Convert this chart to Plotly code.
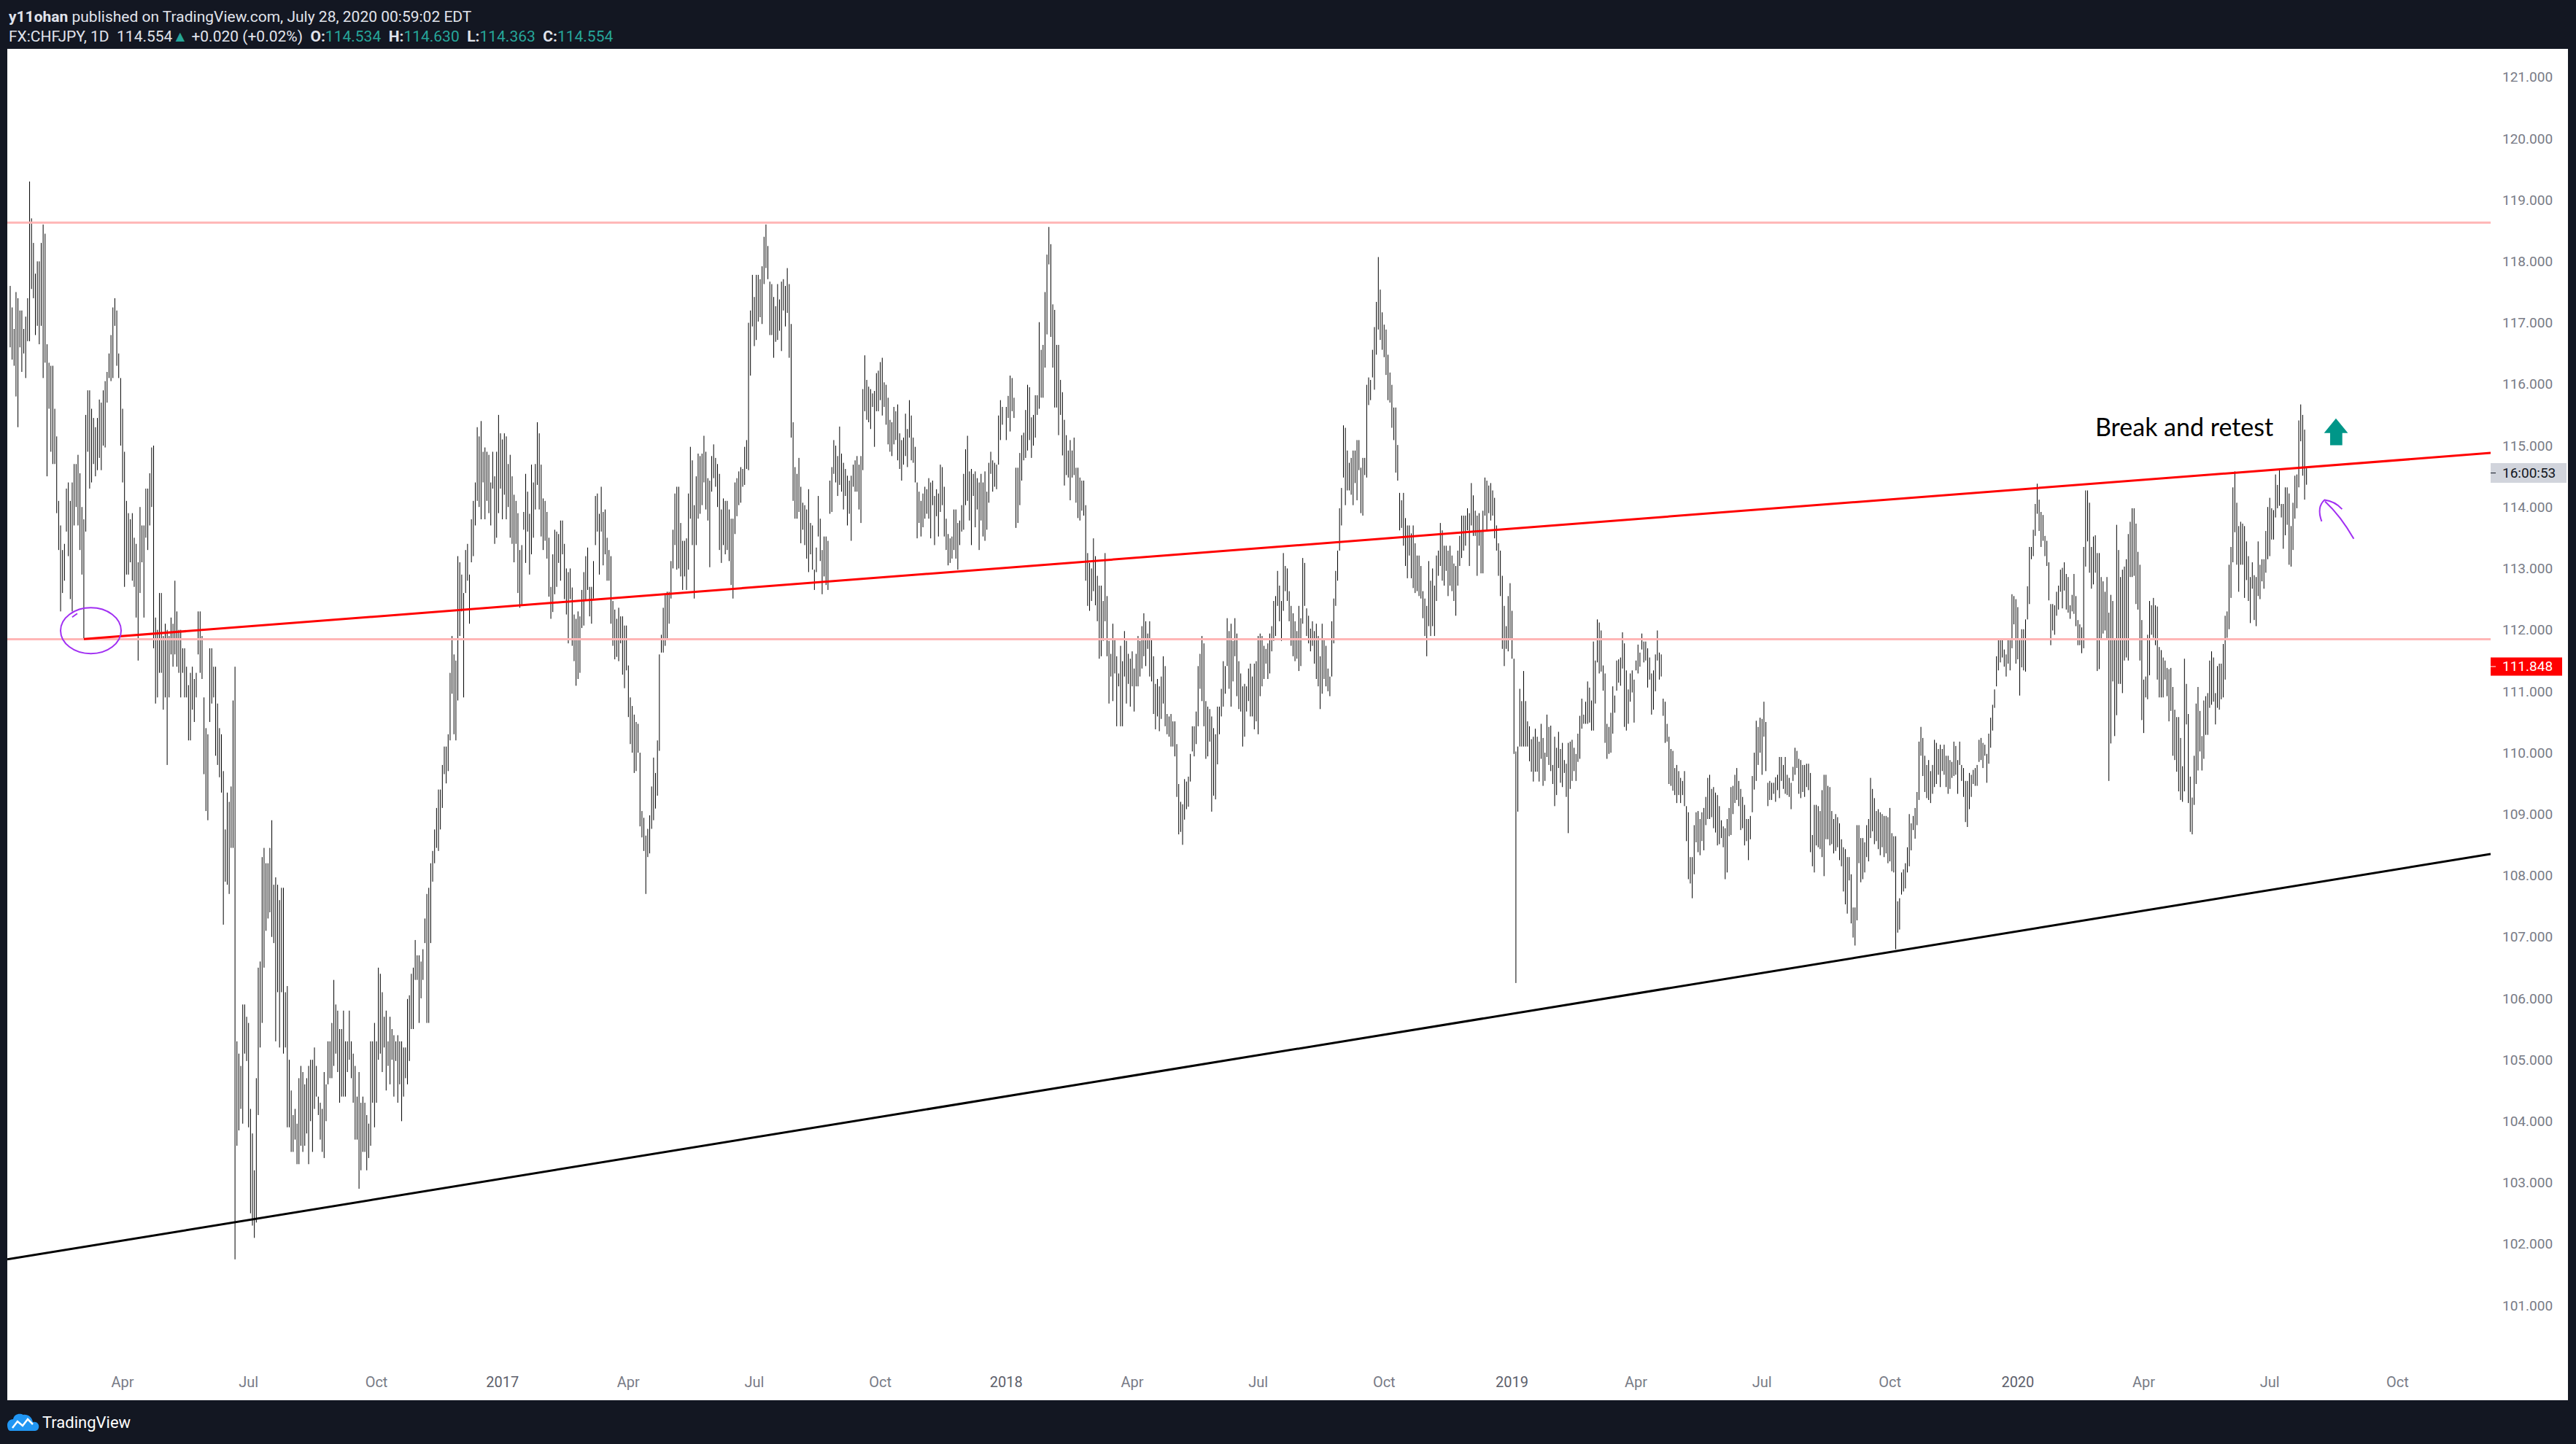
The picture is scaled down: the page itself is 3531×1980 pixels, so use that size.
import pandas as pd
import plotly.graph_objects as go

# ---------------- DATA (daily high / low) ----------------
START_2016 = "2016-01-12"
H2016 = [117.6, 117.25, 116.9, 117.5, 117.4, 117.2, 117.2, 116.9, 117.1, 117.4,
         119.3, 118.7, 118.3, 117.8, 118.0, 118.0, 118.3, 118.6, 118.45, 116.65,
         116.35, 116.3, 116.3, 115.6, 115.15, 114.1, 113.7, 113.3, 113.4, 114.3,
         114.4, 114.1, 114.4, 114.7, 114.7, 114.85, 114.55, 114.0, 113.8, 115.5,
         115.9, 115.9, 115.6, 115.45, 115.3, 115.45, 115.75, 115.7, 115.9, 116.05,
         116.2, 116.5, 116.8, 117.25, 117.4, 117.2, 116.5, 116.1, 115.6, 114.9,
         114.1, 113.9, 113.8, 113.9, 113.5, 113.4, 113.1, 114.0, 113.7, 113.7,
         114.3, 114.3, 114.55, 114.97, 115.0, 112.2, 112.0, 112.6, 112.6, 111.9, 112.1,
         112.0, 111.9, 112.2, 112.1, 112.8, 112.3, 112.0, 112.0, 111.7, 111.7,
         111.4, 111.1, 111.3, 111.4, 111.2, 111.3, 112.3, 112.3, 111.9, 110.9,
         110.4, 110.3, 111.7, 111.7, 111.4, 111.4, 110.8, 110.4, 110.3, 109.7,
         108.75, 109.35, 109.2, 109.45, 110.85, 111.4, 105.3, 105.1, 104.9, 105.9,
         105.9, 105.7, 105.6, 104.2, 103.8, 103.2, 104.7, 106.5, 106.6, 108.3,
         108.45, 108.2, 108.2, 108.45, 108.9, 107.85, 107.97, 107.85, 107.6, 107.8,
         107.8, 106.1, 106.2, 105.0, 104.5, 104.1, 104.2, 103.96, 104.7, 104.9, 104.8,
         104.6, 104.7, 104.9, 105.0, 105.0, 105.2, 104.9, 104.4, 104.3, 104.2,
         104.8, 104.6, 105.3, 105.3, 105.6, 106.3, 105.9, 105.8, 105.5, 105.5,
         105.8, 105.3, 105.3, 105.8, 105.3, 105.1, 104.9, 104.4, 104.8, 104.3,
         104.4, 104.3, 104.1, 103.96, 105.3, 105.3, 105.6, 105.3, 106.5, 106.4,
         106.1, 105.7, 105.8, 105.3, 105.7, 105.5, 105.4, 105.3, 105.4, 105.3,
         105.3, 105.2, 105.2, 105.99, 106.05, 106.4, 106.5, 106.95, 106.7, 106.7, 106.6,
         106.8, 107.3, 107.7, 107.8, 108.2, 108.4, 108.75, 109.1, 109.4, 109.4,
         109.8, 110.1, 110.1, 110.3, 111.3, 111.9, 111.6, 111.5, 113.2, 113.1,
         112.9, 112.6, 113.3, 113.4, 112.9, 113.8, 114.1, 114.4, 115.3, 115.15,
         115.4, 114.9, 114.97, 114.9, 114.85, 114.4, 114.9, 114.5, 114.9, 115.5, 115.2]
L2016 = [116.6, 116.4, 116.3, 115.8, 115.3, 116.6, 116.2, 116.5, 116.1, 116.7,
         116.7, 117.55, 117.4, 116.8, 116.95, 116.65, 116.95, 116.1, 116.35, 114.5,
         115.6, 114.9, 114.7, 114.7, 113.9, 113.3, 112.3, 112.6, 112.8, 113.6,
         113.2, 112.5, 112.3, 113.7, 114.0, 113.7, 113.3, 112.9, 111.85, 113.6,
         114.9, 114.3, 114.4, 114.7, 114.5, 114.6, 114.8, 114.6, 115.0, 114.97,
         115.7, 116.1, 116.05, 116.1, 116.95, 116.3, 116.1, 115.0, 114.4, 112.7,
         112.9, 112.9, 113.1, 112.8, 112.7, 112.2, 111.5, 112.6, 113.1, 112.2,
         113.5, 113.3, 113.7, 114.0, 111.7, 110.8, 110.9, 111.3, 111.3, 110.7, 110.9,
         109.8, 110.9, 111.6, 111.4, 111.6, 111.4, 111.3, 110.9, 111.3, 110.9,
         110.9, 110.2, 110.2, 110.7, 110.5, 110.9, 111.6, 111.3, 111.2, 109.65,
         109.05, 108.9, 110.5, 110.8, 110.9, 109.95, 109.8, 109.6, 109.35, 107.2,
         107.9, 107.85, 107.7, 108.45, 108.45, 101.75, 103.6, 103.85, 104.2, 103.96,
         105.1, 104.98, 103.9, 102.5, 102.3, 102.1, 102.35, 104.1, 105.2, 105.6,
         106.5, 107.1, 107.3, 107.4, 107.0, 106.9, 105.3, 106.1, 105.2, 106.1,
         105.1, 105.2, 103.9, 103.9, 103.5, 103.5, 103.7, 103.3, 103.3, 103.6, 103.5,
         103.6, 103.8, 103.3, 104.0, 103.5, 104.2, 104.4, 104.1, 103.7, 103.5,
         103.4, 104.0, 104.6, 104.7, 104.7, 104.9, 105.1, 104.8, 104.3, 104.4,
         104.4, 104.4, 104.8, 105.0, 104.7, 104.3, 103.7, 103.7, 102.9, 103.2,
         103.5, 103.5, 103.2, 103.4, 103.6, 104.3, 103.9, 104.3, 105.0, 105.1,
         104.8, 105.2, 104.5, 104.9, 104.6, 105.0, 104.4, 104.98, 104.3, 104.6,
         104.0, 104.4, 104.7, 104.6, 104.98, 105.5, 105.5, 106.3, 106.3, 105.6, 106.0,
         106.3, 106.9, 105.6, 105.6, 106.9, 107.9, 108.2, 108.45, 108.4, 108.75,
         109.1, 109.65, 109.5, 109.7, 110.2, 110.96, 110.3, 110.2, 110.85, 111.9,
         112.3, 110.9, 112.6, 112.8, 112.1, 113.1, 113.2, 113.7, 114.1, 114.0,
         113.8, 114.4, 113.8, 114.1, 113.9, 113.7, 114.3, 113.4, 113.5, 113.9, 114.3]

START_2017 = "2017-01-01"
H2017 = [115.1, 115.2, 115.15, 114.7, 114.85, 114.5, 114.2, 114.1, 113.9,
         113.3, 113.38, 113.92, 114.54, 114.25, 113.89, 114.69, 114.4, 114.7, 115.38,
         115.2, 114.69, 114.14, 114.1, 113.92, 113.5, 112.7, 113.23, 113.63, 113.6,
         113.56, 113.78, 113.78, 113.4, 113.0, 112.94, 113.0, 112.69, 112.25, 112.18, 112.3,
         112.22, 112.65, 112.94, 113.2, 113.34, 112.7, 112.7, 113.12, 114.18, 114.22,
         113.89, 114.33, 113.92, 113.96, 113.5, 113.3, 113.2, 112.47, 112.33, 112.18,
         112.36, 112.22, 112.22, 112.07, 112.07, 111.42, 110.9, 110.76, 110.62, 110.5,
         110.47, 110.0, 109.05, 108.94, 108.65, 108.76, 108.98, 109.45, 109.92, 109.67, 110.2,
         111.6, 111.92, 112.36, 112.58, 112.62, 112.62, 113.12, 113.63, 114.22, 114.33,
         114.33, 113.74, 113.45, 113.45, 113.49, 114.22, 114.98, 114.76, 114.03, 114.5,
         114.87, 114.83, 114.87, 115.16, 114.9, 114.47, 114.43, 114.83, 115.02, 114.8, 114.7,
         114.54, 113.96, 114.14, 114.1, 114.1, 113.96, 113.81, 113.81, 114.4, 114.47,
         114.58, 114.65, 114.62, 114.98, 115.09, 117.0, 117.2, 117.78, 117.42, 117.78,
         117.78, 117.71, 117.92, 118.4, 118.6, 118.25, 117.67, 117.63, 117.42, 117.27,
         117.63, 117.38, 117.67, 117.71, 117.6, 117.89, 117.63, 116.98, 115.38, 114.65,
         114.54, 114.8, 114.33, 114.07, 114.03, 113.96, 114.29, 113.74, 113.7, 112.98,
         113.34, 114.18, 113.81, 113.3, 113.52, 113.52, 113.45, 114.43, 114.65, 115.09, 115.0,
         114.83, 115.31, 114.87, 114.72, 114.62, 114.51, 114.43, 114.51, 114.69, 114.76,
         114.83, 114.69, 114.83, 115.92, 116.47, 116.07, 115.96, 115.92, 115.85, 115.89,
         116.18, 116.22, 116.36, 116.43, 116.03, 115.99, 115.78, 115.42, 115.38, 115.63,
         115.56, 115.67, 115.2, 115.09, 115.13, 115.52, 115.27, 115.74, 115.49, 115.13,
         114.98, 114.4, 114.25, 114.1, 114.22, 114.33, 114.29, 114.47, 114.4, 114.43,
         114.18, 114.29, 114.22, 114.69, 114.65, 114.33, 113.81, 113.56, 113.49, 113.52,
         113.96, 113.96, 113.74, 113.78, 114.03, 114.54, 114.94, 115.16, 114.58, 114.62,
         114.54, 114.58, 114.47, 114.4, 114.54, 114.4, 114.58, 114.25, 114.72, 114.9,
         114.76, 114.72, 114.69, 115.49, 115.74, 115.63]
L2017 = [113.8, 114.2, 113.8, 114.0, 113.5, 113.4, 113.1, 113.4, 112.6,
         112.36, 112.4, 113.63, 113.09, 113.6, 112.9, 113.23, 113.5, 113.96, 114.36,
         113.96, 113.52, 113.3, 113.45, 113.16, 112.54, 112.18, 112.29, 112.58, 112.7,
         113.09, 112.8, 113.23, 112.5, 112.25, 111.78, 112.5, 111.74, 111.49, 111.09, 111.2,
         111.3, 112.03, 112.07, 112.47, 112.65, 112.22, 112.1, 112.51, 113.38, 113.6,
         112.9, 113.6, 113.05, 113.23, 112.8, 112.8, 112.1, 111.74, 111.52, 111.56,
         111.49, 111.78, 111.27, 111.05, 111.34, 110.58, 110.14, 110.0, 109.67, 109.7,
         110.0, 108.8, 108.62, 108.4, 107.7, 108.3, 108.36, 108.76, 108.9, 109.09, 109.3,
         110.03, 111.63, 111.63, 111.74, 111.85, 112.1, 112.51, 113.0, 113.38, 112.98,
         113.0, 112.87, 112.65, 112.87, 112.65, 112.98, 113.81, 113.38, 112.51, 113.38,
         113.81, 113.89, 114.03, 114.4, 113.96, 113.78, 113.02, 114.25, 114.47, 114.33, 114.0,
         113.3, 113.09, 113.38, 113.23, 113.3, 113.12, 112.73, 112.51, 113.56, 113.85,
         114.03, 114.07, 114.33, 114.36, 114.62, 114.6, 116.14, 116.94, 116.62, 116.72,
         117.02, 117.09, 116.98, 117.63, 117.89, 117.71, 116.8, 116.8, 116.43, 116.69,
         116.72, 116.87, 116.54, 117.2, 116.94, 117.16, 116.43, 115.13, 114.1, 113.81,
         113.81, 113.92, 113.41, 113.63, 113.38, 113.16, 112.94, 113.23, 112.98, 112.65,
         112.94, 113.52, 113.12, 112.58, 112.87, 112.73, 112.65, 113.89, 113.92, 114.54, 114.4,
         114.18, 114.36, 114.25, 113.96, 114.18, 113.7, 113.89, 113.45, 114.33, 114.25,
         114.25, 113.96, 113.74, 114.6, 115.56, 115.42, 115.38, 115.27, 115.63, 114.98,
         115.56, 115.56, 115.74, 115.49, 115.63, 115.34, 115.02, 114.9, 114.83, 115.02,
         115.09, 114.76, 114.62, 114.43, 114.69, 114.83, 114.65, 115.13, 114.76, 114.72,
         114.4, 113.49, 113.74, 113.52, 113.67, 113.81, 113.89, 113.81, 113.49, 114.03,
         113.38, 113.85, 113.52, 113.92, 114.03, 113.52, 113.3, 113.05, 113.09, 113.16,
         113.3, 113.16, 112.98, 113.38, 113.6, 113.63, 114.03, 114.1, 113.78, 113.38,
         114.18, 113.67, 113.96, 113.3, 113.78, 113.52, 113.45, 113.63, 114.07, 114.54,
         114.25, 114.33, 114.29, 114.69, 115.09, 115.34]

START_2018 = "2018-01-01"
H2018 = [115.63, 115.81, 116.14, 116.1, 115.78,
         114.64, 114.64, 114.88, 115.17, 115.21, 115.58, 115.99, 115.95, 115.46, 115.5, 115.82,
         115.82, 117.01, 116.56, 116.64, 117.5, 118.11, 118.56, 118.28, 117.3, 117.21,
         116.64, 116.64, 116.07, 115.87, 115.42, 115.17, 114.92, 115.09, 114.92, 115.13,
         114.64, 114.64, 114.48, 114.43, 114.43, 114.03, 113.25, 113.09, 113.0, 113.49, 113.2,
         112.88, 112.72, 112.72, 112.47, 113.25, 112.55, 111.82, 111.61, 112.1, 111.86,
         111.57, 111.29, 111.74, 111.49, 111.98, 111.82, 111.61, 111.53, 111.65, 111.37,
         111.61, 111.9, 111.82, 112.06, 112.27, 112.14, 111.94, 112.14, 111.86, 111.57,
         111.12, 111.2, 111.08, 111.24, 111.57, 111.41, 110.63, 110.59, 110.63, 110.51,
         110.51, 110.14, 109.49, 109.2, 109.16, 109.57, 109.53, 109.61, 109.98, 110.43,
         110.43, 110.67, 111.41, 111.61, 111.9, 111.78, 110.84, 110.75, 110.71, 110.59, 110.4,
         110.3, 110.75, 110.75, 111.04, 111.49, 111.41, 112.19, 111.98, 112.1, 111.82,
         112.19, 111.94, 111.49, 111.29, 111.08, 111.12, 111.08, 111.37, 111.45, 111.24,
         111.45, 111.49, 111.9, 111.94, 111.9, 111.74, 111.69, 111.78, 111.94, 112.06,
         112.47, 112.55, 112.96, 112.72, 112.47, 113.25, 113.04, 113.0, 112.63, 112.39,
         112.27, 112.14, 111.98, 112.39, 112.19, 113.17, 113.09, 112.35, 112.23, 112.02,
         112.14, 111.98, 112.1, 111.9, 111.57, 112.1, 111.86, 111.74, 111.37, 111.24,
         112.14, 112.51, 112.96, 113.29, 113.98, 114.31, 115.33, 115.29, 114.92, 114.72, 114.8,
         114.92, 114.92, 115.09, 115.09, 114.64, 114.8, 114.8, 115.99, 116.11, 116.07,
         116.56, 116.93, 117.34, 118.07, 117.54, 117.17, 116.97, 116.89, 116.48, 116.19,
         115.99, 115.62, 115.62, 115.01, 114.23, 114.11, 114.23, 113.82, 113.7, 113.7,
         113.57, 113.7, 113.41, 113.21, 113.21, 113.04, 112.63, 112.51, 112.39, 113.12,
         112.8, 113.0, 112.72, 113.21, 113.29, 113.74, 113.62, 113.37, 113.37, 113.29,
         113.37, 113.21, 113.08, 113.04, 113.29, 113.53, 113.86, 113.86, 113.86, 113.98,
         113.9, 114.39, 114.19, 113.94, 113.86, 113.9, 113.62, 113.94, 114.48, 114.43,
         114.35, 114.39, 114.27, 114.15, 113.7, 113.41, 113.29, 112.88, 112.39, 112.06, 112.55, 112.76]
L2018 = [115.09, 115.45, 115.23, 115.56, 115.45,
         113.66, 113.74, 114.03, 114.43, 114.76, 114.8, 114.92, 115.09, 114.8, 115.0, 115.13,
         115.5, 115.6, 115.78, 115.78, 116.27, 116.81, 117.95, 116.77, 116.27, 115.62,
         115.62, 115.17, 115.5, 114.84, 114.35, 114.52, 114.48, 114.11, 114.48, 114.52,
         114.07, 113.82, 113.78, 113.94, 113.86, 112.8, 112.39, 112.31, 112.47, 112.63, 112.4,
         112.14, 111.53, 111.57, 111.82, 112.14, 111.57, 110.8, 111.24, 110.84, 111.29,
         110.43, 111.08, 110.43, 110.43, 111.24, 110.8, 111.12, 110.75, 111.08, 110.67,
         111.08, 111.08, 111.24, 111.37, 111.57, 111.41, 111.69, 111.24, 111.16, 110.63,
         110.38, 110.59, 110.35, 110.55, 110.8, 110.43, 110.3, 110.26, 110.1, 110.1,
         109.94, 109.28, 108.67, 108.71, 108.5, 108.91, 109.08, 109.12, 109.53, 110.02,
         109.94, 110.14, 110.43, 111.04, 110.84, 110.43, 109.9, 109.94, 110.18, 109.04, 109.3,
         109.24, 109.81, 110.3, 110.59, 110.75, 110.96, 111.41, 111.04, 110.75, 111.16,
         111.57, 110.92, 110.71, 110.67, 110.1, 110.26, 110.67, 110.84, 110.59, 110.59,
         110.38, 110.51, 110.3, 110.92, 111.08, 111.2, 111.45, 111.2, 111.29, 111.65,
         111.82, 111.9, 112.39, 112.14, 111.82, 112.31, 112.63, 112.47, 112.14, 111.74,
         111.57, 111.49, 111.53, 111.33, 111.41, 112.1, 112.39, 111.9, 111.78, 111.65,
         111.74, 111.45, 111.2, 111.08, 110.71, 110.96, 111.2, 111.08, 111.0, 110.92,
         111.24, 111.78, 112.39, 112.8, 113.29, 113.7, 114.48, 114.03, 114.27, 114.27, 114.2,
         114.03, 114.39, 114.11, 114.6, 113.9, 113.86, 114.52, 114.48, 115.66, 115.74,
         116.11, 115.91, 116.48, 116.89, 116.72, 116.56, 116.44, 116.15, 115.74, 115.7,
         115.29, 115.09, 114.56, 114.43, 113.62, 113.66, 113.37, 113.04, 112.84, 113.21,
         112.84, 112.68, 112.6, 112.63, 112.55, 112.51, 112.19, 111.9, 111.57, 112.06,
         111.9, 112.06, 111.9, 112.47, 112.88, 113.04, 112.8, 112.72, 112.96, 112.55,
         112.72, 112.63, 112.47, 112.23, 112.72, 113.04, 113.17, 113.29, 113.37, 113.62,
         113.04, 113.7, 113.53, 113.53, 112.88, 113.37, 112.92, 112.92, 113.86, 113.62,
         113.9, 113.78, 113.86, 113.49, 113.29, 112.88, 112.55, 111.69, 111.41, 111.69, 111.65, 111.86]

START_2019 = "2019-01-01"
H2019 = [112.31, 111.53, 110.02, 110.1, 111.04, 110.84, 111.33, 110.84, 110.51, 110.43,
         110.22, 110.26, 110.39, 110.26, 110.18,
         110.47, 110.24, 110.0, 110.62, 110.42, 110.44, 109.8, 110.26, 110.08, 110.34,
         110.06, 110.16, 109.88, 109.82, 110.16, 110.18, 110.21, 110.08, 109.98, 110.31,
         110.6, 110.88, 110.62, 110.83, 111.16, 111.06, 110.85, 111.81, 111.5,
         112.17, 112.12, 111.99, 111.42, 111.29, 110.47, 110.42, 110.65, 111.08, 110.93,
         111.5, 111.52, 111.55, 111.96, 111.78, 111.34, 111.03, 111.29, 111.34, 111.19,
         111.5, 111.76, 111.63, 111.94, 111.81, 111.81, 111.7, 111.55, 111.29, 111.34, 111.6,
         111.99, 111.63, 111.6, 110.88, 110.83, 110.47, 110.26, 110.06, 110.03, 109.75,
         109.8, 109.7, 109.59, 109.54, 109.7, 109.13, 109.03, 108.3, 108.3, 108.82,
         109.03, 109.05, 108.92, 109.03, 109.1, 109.28, 109.59, 109.64, 109.41, 109.44, 109.35,
         109.31, 109.13, 108.9, 108.8, 108.77, 108.92, 109.1, 109.44, 109.46, 109.64,
         109.75, 109.54, 109.41, 109.28, 109.15, 108.92, 108.92, 108.97, 109.62, 110.0,
         110.52, 110.42, 110.57, 110.55, 110.83, 110.5, 109.51, 109.54, 109.51, 109.51, 109.6,
         109.64, 109.93, 109.93, 109.8, 109.93, 109.64, 109.59, 109.51, 109.77, 110.08,
         110.03, 109.9, 109.88, 109.8, 109.8, 109.82, 109.82, 109.67, 108.66, 109.15,
         109.15, 109.13, 109.05, 109.39, 109.64, 109.64, 109.46, 109.44, 109.05, 108.92, 109.0,
         108.95, 108.85, 108.59, 108.46, 108.43, 108.3, 108.3, 108.02, 107.48, 107.48,
         108.82, 108.82, 108.61, 108.61, 108.54, 108.82, 108.92, 109.59, 109.41, 109.26,
         109.05, 109.08, 109.03, 109.0, 108.97, 108.97, 108.95, 109.1, 108.69, 108.64,
         108.64, 107.58, 107.63, 108.05, 108.1, 108.2, 108.46, 109.0, 108.85, 108.97, 109.1,
         109.36, 110.18, 110.42, 110.24, 109.95, 109.8, 109.88, 109.7, 109.8, 110.21,
         110.16, 110.06, 110.13, 110.06, 110.13, 109.95, 109.95, 109.88, 109.85, 110.18,
         110.11, 109.88, 110.18, 109.8, 109.75, 109.54, 109.54, 109.67, 109.64, 109.72,
         109.75, 109.8, 110.21, 110.24, 110.16, 110.13, 109.98, 110.31, 110.57, 110.78,
         111.03, 111.57, 111.83, 111.86, 111.83, 111.68, 111.6, 111.83, 111.86, 112.58,
         112.55, 112.5]
L2019 = [111.53, 109.98, 106.25, 109.04, 110.1, 110.1, 110.1, 110.1, 110.1, 109.86,
         109.69, 109.53, 109.69, 109.69, 109.53,
         109.9, 109.46, 109.54, 109.93, 109.8, 109.7, 109.49, 109.13, 109.31, 109.75,
         109.51, 109.44, 109.67, 109.28, 108.69, 109.41, 109.54, 109.7, 109.54, 109.85,
         109.9, 110.39, 110.47, 110.47, 110.47, 110.49, 110.36, 110.36, 110.8,
         111.47, 111.29, 111.32, 111.01, 110.16, 109.9, 109.98, 110.0, 110.31, 110.65,
         111.01, 111.14, 111.09, 111.37, 110.42, 110.36, 110.47, 110.83, 110.98, 110.49,
         111.34, 111.29, 111.4, 111.68, 111.47, 111.5, 111.06, 111.19, 110.62, 110.7, 111.0,
         111.5, 111.19, 111.24, 110.6, 110.16, 110.18, 109.49, 109.46, 109.38, 109.31,
         109.18, 109.31, 109.18, 109.31, 109.13, 108.56, 107.94, 107.87, 107.63, 108.02,
         108.54, 108.38, 108.33, 108.56, 108.41, 108.82, 108.92, 108.92, 108.95, 108.77, 108.7,
         108.49, 108.51, 108.61, 108.46, 107.94, 108.05, 108.64, 108.66, 109.0, 109.18,
         109.23, 109.13, 108.74, 108.77, 108.49, 108.56, 108.25, 108.59, 109.03, 109.4,
         109.54, 109.8, 110.0, 109.64, 110.26, 109.7, 109.13, 109.23, 109.23, 109.33, 109.2,
         109.39, 109.26, 109.54, 109.41, 109.33, 109.31, 109.28, 109.08, 109.54, 109.64,
         109.75, 109.33, 109.26, 109.36, 109.28, 109.44, 109.39, 108.38, 108.15, 108.05,
         108.49, 108.46, 108.43, 108.3, 107.99, 108.59, 108.59, 108.49, 108.51, 108.36, 108.4,
         108.46, 108.25, 108.15, 107.74, 107.53, 107.38, 107.92, 107.22, 106.99, 106.86,
         107.27, 108.2, 107.89, 107.94, 108.05, 108.3, 108.23, 108.61, 108.72, 108.51,
         108.56, 108.43, 108.33, 108.46, 108.3, 108.36, 108.2, 108.23, 108.07, 108.05,
         106.8, 107.07, 107.12, 107.69, 107.74, 107.79, 108.05, 108.15, 108.41, 108.74, 108.6,
         108.82, 109.23, 109.95, 109.62, 109.36, 109.26, 109.23, 109.18, 109.33, 109.44,
         109.49, 109.64, 109.44, 109.7, 109.64, 109.44, 109.33, 109.41, 109.59, 109.62,
         109.64, 109.33, 109.8, 109.54, 109.28, 108.87, 108.79, 109.08, 109.28, 109.49,
         109.46, 109.46, 109.85, 109.88, 109.75, 109.95, 109.51, 109.82, 110.08, 110.36,
         110.73, 111.08, 111.34, 111.47, 111.55, 111.4, 111.24, 111.45, 111.34, 111.7,
         112.09, 111.45]

START_2020 = "2020-01-01"
H2020 = [112.37, 111.86, 112.01, 112.01, 112.17, 112.71, 113.35, 113.35, 113.63, 114.05,
         114.38, 114.12, 113.92, 113.87, 113.53, 113.45, 113.1,
         112.42, 112.42, 112.4, 112.62, 112.72, 112.98, 113.01, 113.1, 112.91, 112.86,
         112.4, 112.57, 112.91, 112.55, 112.16, 112.09, 112.04, 113.35, 114.27, 114.27,
         114.07, 113.35, 113.52, 113.54, 113.25, 113.25, 112.86, 112.79, 112.62, 112.86,
         112.28, 112.57, 112.47, 111.84, 113.71, 113.3, 112.86, 112.98, 113.03, 113.15,
         113.56, 113.76, 113.98, 113.98, 113.73, 113.27, 113.06, 112.16, 111.19, 111.24,
         111.92, 112.47, 112.4, 112.52, 112.4, 112.38, 111.72, 111.67, 111.55, 111.5,
         111.38, 111.36, 111.38, 111.07, 110.7, 110.58, 110.58, 110.24, 109.78, 111.53,
         111.12, 110.63, 109.61, 109.27, 109.95, 110.8, 111.07, 110.68, 110.27, 110.85,
         110.92, 110.97, 111.5, 111.65, 111.55, 110.97, 111.41, 111.45, 111.45, 111.77,
         112.23, 112.3, 113.06, 113.35, 114.32, 114.58, 114.07, 113.69, 113.76, 113.73,
         113.69, 113.44, 113.2, 112.86, 113.1, 112.89, 112.86, 113.44, 113.06, 113.15,
         113.15, 113.61, 114.0, 114.15, 113.98, 113.95, 114.53, 114.36, 114.61, 114.05,
         114.05, 114.32, 114.32, 114.22, 113.69, 114.07, 114.51, 114.53, 115.41, 115.67,
         115.5, 115.26, 114.63]
L2020 = [111.52, 110.93, 111.39, 111.34, 111.32, 112.17, 112.42, 113.15, 113.2, 113.53,
         113.89, 113.61, 113.35, 113.45, 113.2, 113.04, 112.48,
         111.75, 111.99, 111.92, 112.23, 112.33, 112.62, 112.35, 112.64, 112.33, 112.28,
         112.18, 112.3, 112.26, 112.06, 111.75, 111.75, 111.62, 111.7, 113.03, 113.44,
         112.93, 112.67, 112.74, 112.93, 111.33, 111.36, 111.84, 111.94, 111.99, 111.84,
         109.54, 110.15, 111.16, 110.27, 110.61, 111.12, 111.12, 110.97, 111.5, 111.55,
         111.5, 112.86, 112.86, 112.88, 112.42, 112.33, 111.5, 110.53, 110.32, 110.9,
         110.87, 111.26, 111.92, 111.87, 111.75, 111.19, 110.9, 110.9, 110.9, 111.19,
         110.92, 110.51, 110.68, 109.95, 109.88, 109.69, 109.37, 109.23, 109.2, 109.37,
         110.46, 109.18, 108.71, 108.67, 109.15, 109.49, 109.71, 110.02, 109.71, 109.9,
         110.29, 110.29, 110.73, 110.78, 110.83, 110.46, 110.73, 110.7, 110.87, 110.9,
         111.19, 111.87, 112.01, 112.52, 113.1, 113.59, 113.06, 112.62, 113.06, 113.06,
         112.52, 112.81, 112.47, 112.11, 112.67, 112.16, 112.06, 112.55, 112.5, 112.79,
         112.67, 112.93, 113.15, 113.2, 113.47, 113.47, 113.83, 113.98, 114.02, 113.83,
         113.32, 113.54, 113.71, 113.06, 113.03, 113.3, 113.81, 113.98, 114.32, 115.07,
         114.51, 114.12, 114.363]

SERIES = [(START_2016, H2016, L2016), (START_2017, H2017, L2017),
          (START_2018, H2018, L2018), (START_2019, H2019, L2019),
          (START_2020, H2020, L2020)]

# horizontal levels and trend lines (time, price)
LEVEL_TOP = 118.63
LEVEL_LOW = 111.848
RED_LINE = [("2016-03-04", 111.85), ("2020-12-08", 114.88)]
BLACK_LINE = [("2016-01-08 12:00", 101.75), ("2020-12-08", 108.35)]
X_RANGE = ["2016-01-08 12:00", "2020-12-08"]
Y_RANGE = [100.05, 121.46]

TICK_MONTHS = ["2016-04", "2016-07", "2016-10", "2017-01", "2017-04", "2017-07", "2017-10",
               "2018-01", "2018-04", "2018-07", "2018-10", "2019-01", "2019-04", "2019-07",
               "2019-10", "2020-01", "2020-04", "2020-07", "2020-10"]
TICK_TEXT = ["Apr", "Jul", "Oct", "2017", "Apr", "Jul", "Oct", "2018", "Apr", "Jul", "Oct",
             "2019", "Apr", "Jul", "Oct", "2020", "Apr", "Jul", "Oct"]

SYMBOL = "FX:CHFJPY, 1D"
LAST = 114.554
CHANGE = "+0.020 (+0.02%)"
OHLC = [("O", "114.534"), ("H", "114.630"), ("L", "114.363"), ("C", "114.554")]
AUTHOR = "y11ohan"
PUBLISHED = "published on TradingView.com, July 28, 2020 00:59:02 EDT"
NOTE_TEXT = "Break and retest"
NOTE_POS = ("2020-04-30", 115.31)
CIRCLE_ANCHOR = ("2016-03-04", 111.85)
MARK_ANCHOR = ("2020-08-06", 114.0)
COUNTDOWN = "16:00:53"

# ---------------- FIGURE ----------------
W, H = 3531, 1980
PL, PR, PT, PB = 10, 3414, 67, 1870
DARK = "#131722"
TEAL = "#26a69a"
AXIS_GRAY = "#787b86"
YEAR_GRAY = "#5d606b"
PURPLE = "#a12ff2"


def pxx(x):
    return (x - PL) / (PR - PL)


def pyy(y):
    return (PB - y) / (PB - PT)


xs, ys = [], []
for start, hi, lo in SERIES:
    n = min(len(hi), len(lo))
    dates = pd.bdate_range(start, periods=n)
    for d, h, l in zip(dates, hi[:n], lo[:n]):
        xs += [d, d, None]
        ys += [l, h, None]

fig = go.Figure()
fig.add_trace(go.Scatter(x=xs, y=ys, mode="lines", line=dict(color="#000000", width=1),
                         hoverinfo="skip", connectgaps=False))

tickvals = [pd.bdate_range(m + "-01", periods=1)[0] for m in TICK_MONTHS]
ticktext = [f"<span style='color:{YEAR_GRAY}'>{t}</span>" if t.isdigit() else t
            for t in TICK_TEXT]

shapes = []
# white chart panel
shapes.append(dict(type="rect", xref="paper", yref="paper", x0=pxx(10), x1=pxx(3520),
                   y0=pyy(1920), y1=1, fillcolor="white", line=dict(width=0), layer="below"))
# horizontal levels
for lv in (LEVEL_TOP, LEVEL_LOW):
    shapes.append(dict(type="line", xref="paper", yref="y", x0=0, x1=1, y0=lv, y1=lv,
                       line=dict(color="#ffb6b6", width=3)))
# trend lines
shapes.append(dict(type="line", xref="x", yref="y", x0=RED_LINE[0][0], y0=RED_LINE[0][1],
                   x1=RED_LINE[1][0], y1=RED_LINE[1][1], line=dict(color="#ff0000", width=3)))
shapes.append(dict(type="line", xref="x", yref="y", x0=BLACK_LINE[0][0], y0=BLACK_LINE[0][1],
                   x1=BLACK_LINE[1][0], y1=BLACK_LINE[1][1], line=dict(color="#000000", width=3)))
# purple hand-drawn ellipse around the low
shapes.append(dict(type="path", xref="x", yref="y", xsizemode="pixel", ysizemode="pixel",
                   xanchor=CIRCLE_ANCHOR[0], yanchor=CIRCLE_ANCHOR[1],
                   path="M 51.1,11.5 C 51.1,28.9 32.5,43 9.6,43 C -13.3,43 -31.9,28.9 -31.9,11.5 "
                        "C -31.9,-5.9 -13.3,-20 9.6,-20 C 32.5,-20 51.1,-5.9 51.1,11.5 "
                        "M -16,30 L -9,35",
                   line=dict(color=PURPLE, width=2)))
# green up arrow
shapes.append(dict(type="path", xref="x", yref="y", xsizemode="pixel", ysizemode="pixel",
                   xanchor=MARK_ANCHOR[0], yanchor=MARK_ANCHOR[1],
                   path="M 21.7,121.4 L 38.1,101.4 L 30.4,101.4 L 30.4,84.7 L 13.7,84.7 "
                        "L 13.7,101.4 L 5.4,101.4 Z",
                   fillcolor="#009688", line=dict(width=0)))
# purple hand-drawn arrow
shapes.append(dict(type="path", xref="x", yref="y", xsizemode="pixel", ysizemode="pixel",
                   xanchor=MARK_ANCHOR[0], yanchor=MARK_ANCHOR[1],
                   path="M 2.1,-19.6 Q -5,0 6.1,9.7 Q 20,8 30.1,-2.9 M 6.7,7.7 Q 28,-12 46.1,-43.6",
                   line=dict(color=PURPLE, width=2)))
# countdown box on price scale
shapes.append(dict(type="rect", xref="paper", yref="y", ysizemode="pixel", yanchor=LAST,
                   x0=pxx(3414), x1=pxx(3518), y0=-13.5, y1=13.5,
                   fillcolor="#d1d4dc", line=dict(width=0)))
shapes.append(dict(type="line", xref="paper", yref="y", ysizemode="pixel", yanchor=LAST,
                   x0=pxx(3414), x1=pxx(3421), y0=0, y1=0, line=dict(color=DARK, width=1)))
# red level label on price scale
shapes.append(dict(type="rect", xref="paper", yref="y", ysizemode="pixel", yanchor=LEVEL_LOW,
                   x0=pxx(3414), x1=pxx(3512), y0=-50, y1=-25,
                   fillcolor="#ff0000", line=dict(width=0)))
shapes.append(dict(type="line", xref="paper", yref="y", ysizemode="pixel", yanchor=LEVEL_LOW,
                   x0=pxx(3414), x1=pxx(3421), y0=-37.5, y1=-37.5, line=dict(color="white", width=1)))
# TradingView logo cloud
shapes.append(dict(type="path", xref="paper", yref="paper", xsizemode="pixel", ysizemode="pixel",
                   xanchor=0, yanchor=0,
                   path="M 4,-92 L 38,-92 C 42,-92 44,-88 43,-84 C 42,-80 38,-79 35,-80 "
                        "C 34,-73 28,-69 22,-70 C 17,-67 9,-69 8,-76 C 3,-76 0,-80 0,-84 "
                        "C 0,-89 2,-92 4,-92 Z",
                   fillcolor="#2196f3", line=dict(width=0)))
shapes.append(dict(type="path", xref="paper", yref="paper", xsizemode="pixel", ysizemode="pixel",
                   xanchor=0, yanchor=0,
                   path="M 7,-88 L 14,-79 L 21,-85 L 28,-76 L 35,-83",
                   line=dict(color="white", width=2.5)))

ann = []
teal = lambda s: f"<span style='color:{TEAL}'>{s}</span>"
line1 = f"<b>{AUTHOR}</b> {PUBLISHED}"
ohlc_txt = "  ".join(f"<b>{k}:</b>{teal(v)}" for k, v in OHLC)
line2 = f"{SYMBOL}  {LAST:.3f}{teal('▲')} {CHANGE}  {ohlc_txt}"
ann.append(dict(text=line1, xref="paper", yref="paper", x=pxx(10), y=pyy(23),
                xanchor="left", yanchor="middle", showarrow=False,
                font=dict(family="Roboto", size=21, color="#e0e3eb")))
ann.append(dict(text=line2, xref="paper", yref="paper", x=pxx(10), y=pyy(50),
                xanchor="left", yanchor="middle", showarrow=False,
                font=dict(family="Roboto", size=21, color="#e0e3eb")))
ann.append(dict(text=NOTE_TEXT, xref="x", yref="y", x=NOTE_POS[0], y=NOTE_POS[1],
                xanchor="center", yanchor="middle", showarrow=False,
                font=dict(family="Lato", size=34, color="#000000")))
ann.append(dict(text=COUNTDOWN, xref="paper", yref="y", x=pxx(3428), y=LAST,
                xanchor="left", yanchor="middle", showarrow=False,
                font=dict(family="Roboto", size=19, color=DARK)))
ann.append(dict(text=f"{LEVEL_LOW:.3f}", xref="paper", yref="y", x=pxx(3428), y=LEVEL_LOW,
                yshift=-37.5, xanchor="left", yanchor="middle", showarrow=False,
                font=dict(family="Roboto", size=19, color="white")))
ann.append(dict(text="TradingView", xref="paper", yref="paper", x=pxx(56), y=pyy(1950),
                xanchor="left", yanchor="middle", showarrow=False,
                font=dict(family="Roboto", size=22, color="white")))

fig.update_layout(
    width=W, height=H,
    margin=dict(l=PL, r=W - PR, t=PT, b=H - PB, pad=0),
    paper_bgcolor=DARK, plot_bgcolor="white",
    showlegend=False, hovermode=False,
    font=dict(family="Roboto", color=AXIS_GRAY),
    shapes=shapes, annotations=ann,
    xaxis=dict(type="date", range=X_RANGE, rangebreaks=[dict(bounds=["sat", "mon"])],
               tickvals=tickvals, ticktext=ticktext, showgrid=False, zeroline=False,
               showline=False, ticks="", ticklabelstandoff=11,
               tickfont=dict(family="Roboto", size=20, color=AXIS_GRAY)),
    yaxis=dict(side="right", range=Y_RANGE, dtick=1, tick0=0, tickformat=".3f",
               showgrid=False, zeroline=False, showline=False, ticks="",
               ticklabelstandoff=15,
               tickfont=dict(family="Roboto", size=19, color=AXIS_GRAY)),
)

PAGE_FIX = ("document.body.style.margin='0';document.body.style.padding='0';"
            "document.body.style.background='%s';"
            "document.documentElement.style.overflow='hidden';" % DARK)
fig.write_html("out.html", config={"displayModeBar": False}, post_script=PAGE_FIX)
